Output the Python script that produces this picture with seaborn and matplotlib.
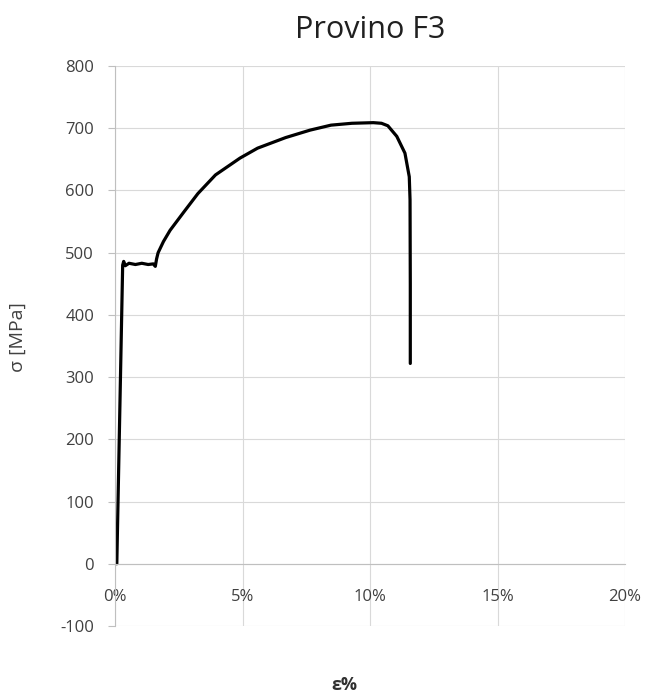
import matplotlib
matplotlib.use("Agg")
import matplotlib.pyplot as plt
from matplotlib.ticker import FuncFormatter, MultipleLocator
import pandas as pd
import seaborn as sns

# Curva tensione-deformazione
deformazione = [0.07, 0.18, 0.30, 0.34, 0.40, 0.55, 0.80, 1.05, 1.30, 1.50, 1.58,
                1.63, 1.69, 1.90, 2.16, 2.71, 3.25, 3.94, 4.90, 5.59, 6.69, 7.65,
                8.47, 9.29, 10.13, 10.45, 10.70, 11.05, 11.37, 11.54, 11.57,
                11.58, 11.58]
tensione = [0, 230, 480, 486, 479, 483, 481, 483, 481, 482, 478,
            490, 500, 518, 536, 566, 595, 625, 652, 668, 685, 697,
            705, 708, 709, 708, 704, 687, 660, 622, 585,
            450, 322]

df = pd.DataFrame({"eps": deformazione, "sigma": tensione})

sns.set_theme(style="white")
plt.rcParams["font.family"] = ["Open Sans", "DejaVu Sans"]
plt.rcParams["axes.unicode_minus"] = False

fig = plt.figure(figsize=(6.48, 6.93), dpi=100)
ax = fig.add_axes([0.1775, 0.0967, 0.787, 0.808])

sns.lineplot(data=df, x="eps", y="sigma", sort=False, estimator=None,
             color="black", linewidth=2.3, ax=ax)

ax.set_xlim(0, 20)
ax.set_ylim(-100, 800)
ax.xaxis.set_major_locator(MultipleLocator(5))
ax.yaxis.set_major_locator(MultipleLocator(100))
ax.xaxis.set_major_formatter(FuncFormatter(lambda v, p: f"{v:.0f}%"))

ax.grid(True, color="#d9d9d9", linewidth=0.8)
ax.set_axisbelow(True)
for lato in ["top", "right"]:
    ax.spines[lato].set_visible(False)
ax.spines["left"].set_color("#bfbfbf")
ax.spines["bottom"].set_color("#bfbfbf")
ax.spines["bottom"].set_position(("data", 0))
ax.spines["left"].set_linewidth(0.8)
ax.spines["bottom"].set_linewidth(0.8)

ax.tick_params(axis="y", left=True, length=5, width=0.8, color="#bfbfbf",
               pad=10, labelsize=12, labelcolor="#404040")
ax.tick_params(axis="x", bottom=False, pad=12, labelsize=12, labelcolor="#404040")

ax.set_title("Provino F3", fontsize=22, color="#202020", pad=20)
ax.set_ylabel("σ [MPa]", fontsize=14, color="#404040")
ax.yaxis.set_label_coords(-0.1725, 0.516)
ax.set_xlabel("ε%", fontsize=13, fontweight="bold", color="#303030", va="center")
ax.xaxis.set_label_coords(0.449, -0.105)

fig.savefig("out.png", dpi=100)
plt.close(fig)
